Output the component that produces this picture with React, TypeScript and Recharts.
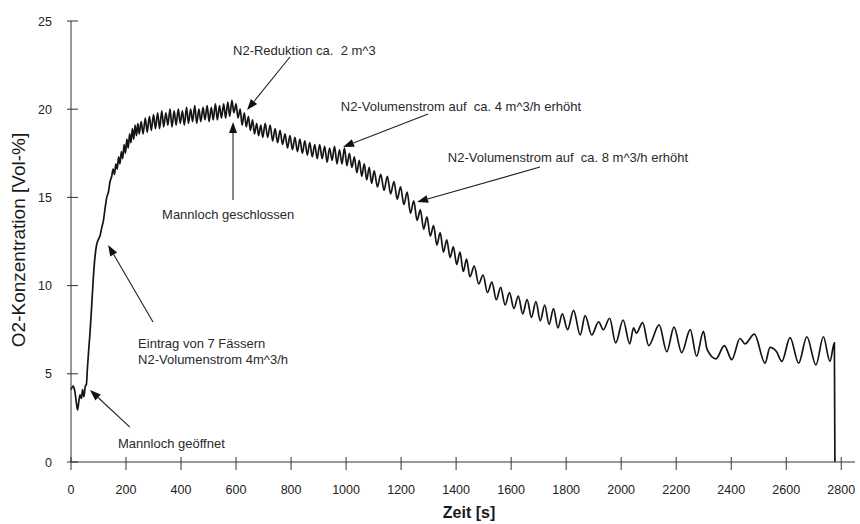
import React from 'react';
import { LineChart, Line, XAxis, YAxis, ReferenceLine, ReferenceDot } from 'recharts';

type P = [number, number];

// Zeit [s] / O2-Konzentration [Vol-%]
const anstieg: P[] = [
  [0, 4.1], [8, 4.3], [14, 4.0], [20, 3.3], [24, 2.95], [29, 3.5], [33, 3.8], [38, 3.6], [42, 4.1], [47, 3.7],
  [52, 4.3], [56, 4.4], [60, 5.4], [65, 6.5], [69, 7.3], [75, 8.8], [81, 10.4], [87, 11.6], [93, 12.3], [99, 12.6],
  [105, 12.8], [112, 13.3], [118, 13.7], [124, 14.4], [130, 15.0], [136, 15.3], [142, 15.9], [148, 16.2], [153, 16.6], [158, 16.3],
  [163, 16.9], [168, 16.6], [173, 17.3], [178, 16.9], [183, 17.6], [188, 17.2], [193, 18.0], [198, 17.5], [203, 18.3], [208, 17.8],
  [213, 18.6], [218, 18.1], [223, 18.9], [228, 18.3], [233, 19.1], [238, 18.5], [243, 19.2], [248, 18.6],
];

const plateau: P[] = [
  [255, 19.3], [262, 18.6], [270, 19.5], [277, 18.7], [285, 19.6], [292, 18.8], [300, 19.7], [307, 18.9], [315, 19.8], [322, 18.9],
  [330, 19.9], [337, 19.0], [345, 19.8], [352, 19.1], [360, 20.0], [367, 19.0], [375, 19.9], [382, 19.1], [390, 20.0], [397, 19.2],
  [405, 19.9], [412, 19.1], [420, 20.1], [427, 19.2], [435, 20.0], [442, 19.3], [450, 20.2], [457, 19.2], [465, 20.0], [472, 19.3],
  [480, 20.1], [487, 19.4], [495, 20.2], [502, 19.3], [510, 20.1], [517, 19.4], [525, 20.3], [532, 19.4], [540, 20.2], [547, 19.5],
  [555, 20.3], [562, 19.5], [570, 20.4], [577, 19.6], [585, 20.5], [592, 19.8], [600, 20.3], [607, 19.5], [615, 20.0], [622, 19.1],
  [630, 19.8], [637, 19.0], [645, 19.6], [652, 18.8], [660, 19.4], [667, 18.6], [675, 19.2], [682, 18.5], [690, 19.1], [697, 18.4],
];

const abfallEins: P[] = [
  [706, 19.2], [715, 18.4], [724, 19.1], [733, 18.2], [742, 18.9], [751, 18.1], [760, 18.8], [769, 18.0], [778, 18.6], [787, 17.8],
  [796, 18.5], [805, 17.7], [814, 18.4], [823, 17.6], [832, 18.3], [841, 17.5], [850, 18.2], [859, 17.4], [868, 18.1], [877, 17.3],
  [886, 18.0], [895, 17.2], [904, 18.0], [913, 17.2], [922, 17.9], [931, 17.0], [940, 17.8], [949, 17.1], [958, 17.9], [967, 16.9],
  [976, 17.7], [985, 16.9], [994, 17.8], [1003, 16.8], [1012, 17.5], [1021, 16.7], [1030, 17.3], [1039, 16.4], [1048, 17.1], [1057, 16.2],
  [1066, 16.9], [1075, 16.0], [1084, 16.7], [1093, 15.8], [1102, 16.5],
];

const abfallZwei: P[] = [
  [1114, 15.6], [1126, 16.3], [1138, 15.4], [1150, 16.2], [1162, 15.2], [1174, 15.9], [1186, 14.9], [1198, 15.6], [1210, 14.6], [1222, 15.3],
  [1234, 14.1], [1246, 14.8], [1258, 13.7], [1270, 14.3], [1282, 13.2], [1294, 13.9], [1306, 12.8], [1318, 13.4], [1330, 12.3], [1342, 13.0],
  [1354, 11.9], [1366, 12.6], [1378, 11.6], [1390, 12.2], [1402, 11.2], [1414, 11.9], [1426, 10.8], [1438, 11.5], [1450, 10.5],
];

const abklingen: P[] = [
  [1466, 11.1], [1482, 10.1], [1498, 10.6], [1514, 9.6], [1530, 10.2], [1546, 9.2], [1562, 9.9], [1578, 8.9], [1594, 9.6], [1610, 8.7],
  [1626, 9.4], [1642, 8.4], [1658, 9.2], [1674, 8.2], [1690, 9.1], [1706, 8.0], [1722, 8.9], [1738, 7.8], [1754, 8.7], [1770, 7.6],
  [1786, 8.4],
];

const ausklingen: P[] = [
  [1805, 7.5], [1827, 8.6], [1851, 7.2], [1869, 8.3], [1893, 7.2], [1918, 7.95], [1935, 7.5], [1958, 8.15], [1980, 6.75], [2007, 8.05],
  [2031, 6.7], [2045, 7.6], [2055, 7.3], [2078, 7.9], [2100, 6.6], [2138, 7.77], [2166, 6.25], [2192, 7.65], [2220, 6.2], [2251, 7.5],
  [2274, 6.0], [2299, 7.4], [2312, 6.4], [2345, 5.85], [2375, 6.6], [2402, 5.8], [2432, 7.0], [2450, 6.7], [2484, 7.25], [2523, 5.6],
  [2541, 6.5], [2565, 6.25], [2584, 5.7], [2614, 7.05], [2645, 5.6], [2675, 7.1], [2708, 5.5], [2735, 7.1], [2759, 5.7], [2775, 6.75],
  [2777, 0],
];

const messung = [...anstieg, ...plateau, ...abfallEins, ...abfallZwei, ...abklingen, ...ausklingen].map(([t, o2]) => ({ t, o2 }));

const zeitTicks = [0, 200, 400, 600, 800, 1000, 1200, 1400, 1600, 1800, 2000, 2200, 2400, 2600, 2800];
const o2Ticks = [0, 5, 10, 15, 20, 25];

// Pfeile: von (Zeit, O2) nach (Zeit, O2)
const pfeile: [P, P][] = [
  [[796, 22.96], [640, 19.95]],
  [[589, 14.85], [589, 19.27]],
  [[1298, 19.73], [989, 17.86]],
  [[1705, 16.72], [1258, 14.74]],
  [[298, 7.94], [135, 12.3]],
  [[214, 1.98], [69, 4.08]],
];

const texte: { t: number; v: number; text: string }[] = [
  { t: 589, v: 23.1, text: 'N2-Reduktion ca.  2 m^3' },
  { t: 331, v: 13.75, text: 'Mannloch geschlossen' },
  { t: 981, v: 19.87, text: 'N2-Volumenstrom auf  ca. 4 m^3/h erhöht' },
  { t: 1370, v: 17.03, text: 'N2-Volumenstrom auf  ca. 8 m^3/h erhöht' },
  { t: 244, v: 6.49, text: 'Eintrag von 7 Fässern' },
  { t: 244, v: 5.53, text: 'N2-Volumenstrom 4m^3/h' },
  { t: 171, v: 0.82, text: 'Mannloch geöffnet' },
];

const FONT = '"Liberation Sans", Arial, sans-serif';
const TICK_SIZE = 5;
const TICK_MARGIN_Y = 14;
const TICK_MARGIN_X = 18;

const YTick = ({ x, y, payload }: any) => {
  const ax = x + TICK_SIZE + TICK_MARGIN_Y;
  return (
    <g>
      <line x1={ax - 4} x2={ax + 7} y1={y} y2={y} stroke="#333" strokeWidth={1} />
      <text x={x} y={y} dy="0.36em" textAnchor="end" fontSize={12.5} fontFamily={FONT} fill="#222">
        {payload.value}
      </text>
    </g>
  );
};

const XTick = ({ x, y, payload }: any) => {
  const ay = y - TICK_SIZE - TICK_MARGIN_X;
  return (
    <g>
      <line x1={x} x2={x} y1={ay - 5} y2={ay + 8} stroke="#333" strokeWidth={1} />
      <text x={x} y={y} dy="0.72em" textAnchor="middle" fontSize={12.5} fontFamily={FONT} fill="#222">
        {payload.value}
      </text>
    </g>
  );
};

const Pfeil = (p: any) => {
  const { x1, y1, x2, y2 } = p;
  const ang = Math.atan2(y2 - y1, x2 - x1);
  const len = 11;
  const half = 4;
  const bx = x2 - len * Math.cos(ang);
  const by = y2 - len * Math.sin(ang);
  const nx = -Math.sin(ang) * half;
  const ny = Math.cos(ang) * half;
  return (
    <g>
      <line x1={x1} y1={y1} x2={bx} y2={by} stroke="#222" strokeWidth={1.1} />
      <polygon points={`${x2},${y2} ${bx + nx},${by + ny} ${bx - nx},${by - ny}`} fill="#111" />
    </g>
  );
};

export default function App() {
  return (
    <div style={{ position: 'absolute', left: 0, top: 0, width: 860, height: 524, background: '#fff' }}>
      <LineChart width={860} height={524} data={messung} margin={{ top: 21, right: 5, left: 21, bottom: 12 }}>
        <XAxis
          dataKey="t"
          type="number"
          domain={[0, 2850]}
          ticks={zeitTicks}
          height={50}
          tickLine={false}
          tickSize={TICK_SIZE}
          tickMargin={TICK_MARGIN_X}
          tick={<XTick />}
          axisLine={{ stroke: '#333' }}
        />
        <YAxis
          type="number"
          domain={[0, 25]}
          ticks={o2Ticks}
          width={50}
          tickLine={false}
          tickSize={TICK_SIZE}
          tickMargin={TICK_MARGIN_Y}
          tick={<YTick />}
          axisLine={{ stroke: '#333' }}
        />
        <Line
          dataKey="o2"
          type="monotone"
          stroke="#141414"
          strokeWidth={1.7}
          dot={false}
          isAnimationActive={false}
        />
        {pfeile.map(([von, nach], i) => (
          <ReferenceLine
            key={'p' + i}
            segment={[{ x: von[0], y: von[1] }, { x: nach[0], y: nach[1] }]}
            shape={(props: any) => <Pfeil {...props} />}
          />
        ))}
        {texte.map((a, i) => (
          <ReferenceDot
            key={'t' + i}
            x={a.t}
            y={a.v}
            r={0}
            shape={(props: any) => (
              <text
                x={props.cx}
                y={props.cy}
                fontSize={13}
                fontFamily={FONT}
                fill="#2a2a2a"
                style={{ whiteSpace: 'pre' }}
              >
                {a.text}
              </text>
            )}
          />
        ))}
      </LineChart>
      <div
        style={{
          position: 'absolute',
          left: 18,
          top: 240,
          transform: 'translate(-50%, -50%) rotate(-90deg)',
          whiteSpace: 'nowrap',
          fontFamily: FONT,
          fontSize: 19,
          color: '#1a1a1a',
          lineHeight: 1,
        }}
      >
        O2-Konzentration [Vol-%]
      </div>
      <div
        style={{
          position: 'absolute',
          left: 469,
          top: 505,
          transform: 'translateX(-50%)',
          whiteSpace: 'nowrap',
          fontFamily: FONT,
          fontSize: 16,
          fontWeight: 'bold',
          color: '#1a1a1a',
          lineHeight: 1,
        }}
      >
        Zeit [s]
      </div>
    </div>
  );
}
